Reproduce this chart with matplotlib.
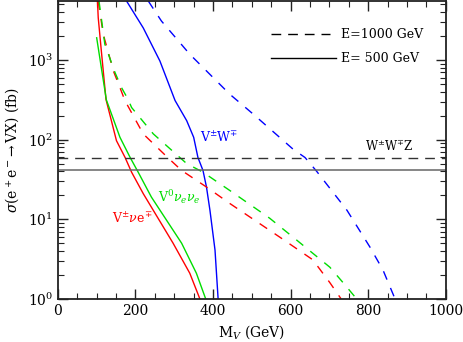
import numpy as np
import matplotlib
matplotlib.use("Agg")
import matplotlib.pyplot as plt
from matplotlib.ticker import MultipleLocator, LogLocator, NullFormatter

plt.rcParams.update({
    "font.family": "DejaVu Serif",
    "mathtext.fontset": "dejavuserif",
    "font.size": 10,
})

# V+- W-+ production, sigma in fb vs M_V in GeV
ww_500_m = [177, 220, 263, 302, 332, 350, 361, 374, 383, 392, 405, 413]
ww_500_s = [5500, 2530, 970, 310, 173, 107, 59.6, 41, 25.4, 12.9, 4.1, 1.0]
ww_1000_m = [233, 267, 340, 443, 503, 606, 637, 667, 745, 804, 838, 869]
ww_1000_s = [5500, 3080, 1180, 372, 210, 76, 59.6, 40, 13, 4.5, 2.3, 1.0]

# V+- nu e-+ production
ve_500_m = [102, 104, 112, 124, 151, 173, 190, 220, 297, 340, 366]
ve_500_s = [5500, 3400, 1300, 320, 97, 60, 39, 21, 5.0, 2.1, 1.0]
ve_1000_m = [104, 117, 143, 160, 173, 220, 283, 319, 383, 443, 572, 657, 701, 730]
ve_1000_s = [5500, 2100, 730, 450, 308, 118, 59.6, 41, 25.4, 15.8, 5.96, 3.1, 1.6, 1.0]

# V0 nu_e nu_e production
vnn_500_m = [100, 112, 125, 160, 186, 207, 241, 319, 357, 381]
vnn_500_s = [1900, 800, 315, 107, 60, 39, 19, 5.0, 2.1, 1.0]
vnn_1000_m = [106, 121, 147, 164, 181, 190, 246, 332, 374, 443, 546, 615, 701, 740, 770]
vnn_1000_s = [5500, 1580, 700, 450, 320, 253, 118, 50, 39, 23, 10.3, 5.5, 2.5, 1.5, 1.0]

# W+- W-+ Z reference cross sections (fb)
wwz_500 = 41
wwz_1000 = 59.6

BLUE, RED, GREEN = "#0000ff", "#ff0000", "#00dd00"
DASH = (0, (6.5, 6.5))
BLACK_DASH = (0, (7, 5))

fig = plt.figure(figsize=(4.63, 3.42), dpi=100)
ax = fig.add_axes([0.125, 0.126, 0.838, 0.871])

ax.plot(ww_500_m, ww_500_s, color=BLUE, lw=1)
ax.plot(ww_1000_m, ww_1000_s, color=BLUE, lw=1, ls=DASH)
ax.plot(ve_500_m, ve_500_s, color=RED, lw=1)
ax.plot(ve_1000_m, ve_1000_s, color=RED, lw=1, ls=DASH)
ax.plot(vnn_500_m, vnn_500_s, color=GREEN, lw=1)
ax.plot(vnn_1000_m, vnn_1000_s, color=GREEN, lw=1, ls=DASH)
ax.axhline(wwz_500, color="#666666", lw=1.1)
ax.axhline(wwz_1000, color="#333333", lw=1, ls=BLACK_DASH)

# hand-drawn key, as in the original figure
ax.plot([550, 701], [2100, 2100], color="black", lw=1, ls=BLACK_DASH)
ax.text(729, 2100, "E=1000 GeV", va="center", fontsize=9)
ax.plot([550, 718], [1050, 1050], color="black", lw=1)
ax.text(729, 1050, "E= 500 GeV", va="center", fontsize=9)

ax.text(366, 107, r"V$^{\pm}$W$^{\mp}$", color=BLUE, va="center", fontsize=9)
ax.text(791, 81, r"W$^{\pm}$W$^{\mp}$Z", color="black", va="center", fontsize=8.5)
ax.text(258, 18.8, r"V$^{0}\nu_e\nu_e$", color=GREEN, va="center", fontsize=9)
ax.text(139, 10.2, r"V$^{\pm}\nu$e$^{\mp}$", color=RED, va="center", fontsize=9)

ax.set_yscale("log")
ax.set_xlim(0, 1000)
ax.set_ylim(1, 5500)
ax.xaxis.set_major_locator(MultipleLocator(200))
ax.xaxis.set_minor_locator(MultipleLocator(50))
ax.yaxis.set_major_locator(LogLocator(base=10, numticks=10))
ax.yaxis.set_minor_locator(LogLocator(base=10, subs=np.arange(2, 10), numticks=10))
ax.yaxis.set_minor_formatter(NullFormatter())
ax.tick_params(which="both", direction="in", top=True, right=True, colors="#222222")
ax.tick_params(which="major", length=7, width=1)
ax.tick_params(which="minor", length=4, width=0.8)
ax.tick_params(labelcolor="black")
for s in ax.spines.values():
    s.set_linewidth(1.3)
    s.set_color("#222222")

ax.set_xlabel(r"M$_V$ (GeV)")
ax.set_ylabel(r"$\sigma$(e$^+$e$^-\!\rightarrow$VX) (fb)")

fig.savefig("out.png", dpi=100)
